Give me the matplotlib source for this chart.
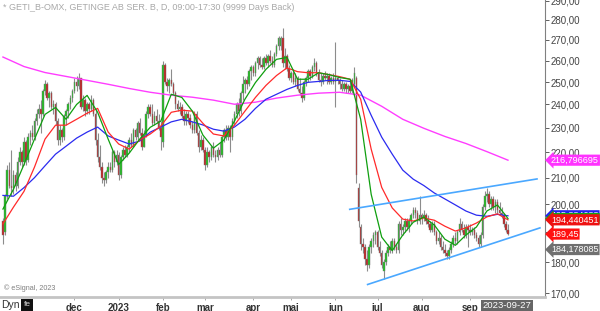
import numpy as np
import pandas as pd
import matplotlib
matplotlib.use('Agg')
import matplotlib.pyplot as plt
import matplotlib.transforms as mtransforms
from matplotlib.ticker import NullLocator

plt.rcParams['font.family'] = ['Liberation Sans', 'DejaVu Sans']

# ---------------- data ----------------
holidays = ['2022-12-26', '2023-01-06', '2023-04-07', '2023-04-10', '2023-05-01',
            '2023-05-18', '2023-06-06', '2023-06-23']
dates = pd.bdate_range('2022-10-14', '2023-09-27')
dates = dates[~dates.isin(pd.to_datetime(holidays))]

opens = [194, 190, 203, 213, 207, 206, 211, 207, 216, 220,
         216, 224, 217, 226, 228, 226, 233, 236, 238, 236,
         246, 249, 243, 245, 239, 240, 233, 225, 229, 226,
         235, 237, 240, 243, 246, 250, 248, 252, 239, 242,
         237, 240, 238, 242, 236, 225, 218, 214, 210, 209,
         212, 214, 213, 220, 216, 219, 211, 218, 221, 219,
         222, 225, 223, 229, 226, 232, 228, 222, 227, 236,
         239, 236, 232, 235, 233, 230, 224, 258, 250, 248,
         251, 249, 245, 240, 238, 239, 235, 233, 236, 234,
         231, 229, 236, 228, 222, 225, 221, 215, 220, 218,
         222, 219, 218, 221, 219, 226, 229, 226, 230, 226,
         233, 236, 240, 237, 245, 249, 251, 249, 255, 257,
         254, 259, 261, 258, 257, 261, 259, 262, 260, 258,
         263, 267, 267, 271, 259, 262, 256, 252, 254, 250,
         252, 247, 245, 243, 250, 252, 255, 253, 257, 259,
         254, 251, 250, 253, 252, 253, 250, 252, 250, 252,
         251, 249, 247, 249, 247, 248, 246, 249, 252, 206,
         192, 186, 185, 181, 179, 185, 187, 189, 190, 185,
         183, 177, 180, 183, 185, 184, 187, 185, 184, 193,
         191, 192, 194, 192, 194, 196, 198, 197, 194, 196,
         195, 196, 194, 193, 191, 193, 190, 187, 188, 185,
         184, 183, 182, 184, 186, 188, 187, 190, 193, 191,
         189, 192, 191, 190, 191, 189, 188, 186, 189, 199,
         203, 204, 200, 202, 199, 201, 198, 197, 196, 193,
         191]
highs = [195, 204, 215, 216, 221, 213, 212, 218, 222, 221,
         226, 225, 228, 229, 231, 234, 238, 240, 242, 247,
         251, 250, 246, 246, 242, 241, 234, 231, 230, 236,
         238, 241, 244, 247, 252, 253, 254, 252, 244, 243,
         241, 241, 244, 243, 238, 228, 223, 216, 212, 213,
         216, 216, 221, 221, 221, 220, 219, 222, 223, 223,
         226, 228, 230, 230, 233, 234, 230, 229, 237, 240,
         240, 240, 237, 238, 236, 233, 260, 259, 252, 252,
         256, 250, 246, 242, 241, 240, 238, 237, 237, 236,
         233, 237, 237, 229, 227, 226, 222, 222, 221, 223,
         224, 221, 222, 224, 227, 230, 231, 231, 231, 234,
         237, 241, 243, 246, 253, 252, 253, 256, 258, 258,
         260, 262, 262, 261, 262, 263, 263, 265, 262, 264,
         268, 272, 272, 276, 266, 263, 258, 255, 256, 254,
         253, 252, 248, 251, 253, 256, 256, 258, 261, 260,
         256, 254, 254, 255, 254, 254, 253, 254, 269, 253,
         252, 251, 250, 250, 249, 250, 252, 257, 253, 208,
         193, 188, 186, 184, 186, 188, 190, 191, 191, 187,
         184, 181, 184, 186, 187, 188, 188, 186, 194, 195,
         193, 195, 195, 195, 197, 199, 199, 198, 203, 197,
         198, 197, 196, 194, 194, 194, 191, 190, 189, 187,
         186, 184, 185, 187, 189, 190, 191, 195, 194, 193,
         193, 193, 193, 192, 192, 190, 189, 190, 200, 205,
         206, 205, 203, 203, 202, 202, 201, 199, 197, 194,
         193]
lows = [186, 189, 202, 206, 203, 204, 205, 206, 215, 214,
        215, 215, 216, 223, 225, 225, 231, 234, 228, 235,
        244, 242, 239, 238, 236, 231, 223, 223, 224, 225,
        231, 234, 238, 241, 245, 246, 247, 238, 237, 235,
        236, 236, 237, 235, 223, 216, 213, 208, 207, 208,
        210, 212, 212, 214, 215, 209, 210, 217, 218, 218,
        220, 222, 222, 225, 225, 227, 221, 222, 226, 234,
        235, 231, 231, 232, 229, 221, 222, 249, 246, 245,
        248, 244, 238, 237, 236, 234, 231, 231, 232, 230,
        228, 228, 227, 220, 221, 220, 213, 214, 216, 217,
        218, 216, 217, 218, 218, 224, 225, 225, 220, 225,
        231, 234, 235, 236, 242, 245, 247, 248, 251, 253,
        253, 256, 257, 256, 256, 258, 257, 259, 257, 257,
        262, 265, 265, 257, 256, 255, 251, 250, 249, 248,
        246, 244, 241, 242, 248, 250, 251, 252, 255, 253,
        250, 248, 249, 251, 249, 249, 249, 249, 239, 249,
        247, 246, 246, 245, 245, 245, 245, 248, 208, 192,
        184, 183, 179, 177, 178, 183, 185, 186, 184, 182,
        178, 174.5, 179, 182, 183, 183, 184, 183, 183, 189,
        189, 190, 191, 190, 193, 195, 195, 193, 193, 193,
        194, 193, 192, 190, 190, 189, 186, 186, 184, 183,
        182, 181, 181, 183, 185, 186, 186, 189, 190, 188,
        188, 185, 189, 189, 188, 187, 185, 185, 188, 198,
        201, 199, 198, 198, 197, 197, 196, 195, 192, 190,
        189]
closes = [189, 203, 213, 207, 206, 211, 207, 216, 220, 216,
          224, 217, 226, 228, 226, 233, 236, 238, 236, 246,
          249, 243, 245, 239, 240, 233, 225, 229, 226, 235,
          237, 240, 243, 246, 250, 248, 252, 239, 242, 237,
          240, 238, 242, 236, 225, 218, 214, 210, 209, 212,
          214, 213, 220, 216, 219, 211, 218, 221, 219, 222,
          225, 223, 229, 226, 232, 228, 222, 227, 236, 239,
          236, 232, 235, 233, 230, 226, 258, 250, 248, 251,
          249, 245, 240, 238, 239, 235, 233, 236, 234, 231,
          229, 236, 228, 222, 225, 221, 215, 220, 218, 222,
          219, 218, 221, 219, 226, 229, 226, 230, 226, 233,
          236, 240, 237, 245, 249, 251, 249, 255, 257, 254,
          259, 261, 258, 257, 261, 259, 262, 260, 258, 263,
          267, 271, 271, 259, 262, 256, 252, 254, 250, 252,
          247, 245, 243, 250, 252, 255, 253, 257, 259, 254,
          251, 250, 253, 252, 253, 250, 252, 250, 252, 251,
          249, 247, 249, 247, 248, 246, 251, 254, 211, 194,
          186, 185, 181, 179, 185, 187, 189, 190, 185, 183,
          179, 180, 183, 185, 184, 187, 185, 184, 193, 191,
          192, 194, 192, 194, 196, 198, 197, 194, 196, 195,
          196, 194, 193, 191, 193, 190, 187, 188, 185, 184,
          183, 182, 184, 186, 188, 187, 190, 193, 191, 189,
          192, 191, 190, 191, 189, 188, 186, 189, 199, 203,
          204, 200, 202, 199, 201, 198, 197, 196, 193, 191,
          189.45]

# moving averages, one value every 5 trading days (magenta every 10)
ma_green = [198.3, 205.6, 215.1, 225.3, 235.7, 238.7, 233.6, 240.0, 244.0, 236.6,
            225.3, 215.1, 219.6, 225.3, 230.2, 232.8, 244.5, 243.1, 237.1, 227.0,
            221.6, 224.9, 232.8, 242.3, 249.8, 255.9, 260.6, 261.5, 251.3, 251.3,
            254.3, 253.4, 252.1, 251.3, 233.6, 203.7, 188.4, 183.8, 189.1, 193.6,
            195.4, 192.6, 187.7, 185.6, 189.1, 191.9, 197.6, 199.8, 194.9]
ma_red = [193.0, 199.0, 204.8, 214.1, 225.3, 231.1, 231.1, 233.6, 236.2, 238.3,
          228.2, 223.3, 221.2, 224.9, 227.4, 230.7, 236.6, 237.5, 237.1, 231.9,
          227.4, 226.6, 231.1, 237.1, 243.1, 248.5, 253.0, 256.6, 254.8, 254.3,
          254.3, 253.4, 252.5, 251.3, 242.3, 221.2, 206.3, 198.7, 194.7, 194.0,
          195.1, 194.3, 192.2, 190.5, 191.6, 193.3, 195.5, 196.6, 194.44]
ma_blue = [203.3, 203.0, 206.2, 210.0, 214.6, 219.2, 222.4, 225.7, 228.2, 230.3,
           226.6, 224.9, 223.3, 224.5, 228.2, 230.3, 232.5, 233.6, 232.5, 231.2,
           229.4, 228.6, 230.3, 233.6, 238.3, 242.3, 244.5, 246.7, 248.5, 249.9,
           250.3, 250.8, 250.8, 250.3, 245.5, 235.3, 226.1, 219.2, 212.9, 209.4,
           207.0, 204.2, 202.0, 199.8, 197.6, 196.1, 195.7, 196.4, 195.88]
ma_magenta = [261.7, 257.2, 254.4, 252.6, 250.8, 249.0, 247.1, 245.4, 244.1, 243.2,
              241.9, 240.1, 241.0, 242.8, 244.1, 245.0, 245.4, 244.1, 239.2, 233.6,
              229.8, 226.4, 223.5, 220.2, 216.8]

trend_upper_day = [164.8, 253.8]
trend_upper_val = [198.2, 209.5]
trend_lower_day = [173.3, 255.2]
trend_lower_val = [172.8, 191.6]

ytick_values = [170, 180, 190, 200, 210, 220, 230, 240, 250, 260, 270, 280, 290]
month_names = ['dec', '2023', 'feb', 'mar', 'apr', 'maj', 'jun', 'jul', 'aug', 'sep']

value_labels = ['216,796695', '195,884088', '194,896120', '194,440451', '189,45', '184,178085']
value_levels = [216.796695, 195.884088, 194.896120, 194.440451, 189.45, 184.178085]
value_colors = ['#ff33ff', '#2222ee', '#11aa11', '#ee1111', '#ff1111', '#707070']

# ---------------- figure ----------------
W, H = 600, 311
fig = plt.figure(figsize=(W / 100, H / 100), dpi=100)
ax = fig.add_axes([0, 1 - 297 / H, 545 / W, 297 / H])
ax.set_yscale('log')
ax.set_ylim(168.9, 290.4)
ax.set_xlim(-1.4, 257.6)

n = len(closes)
x = np.arange(n)
o = np.array(opens, float)
c = np.array(closes, float)
hi = np.array(highs, float)
lo = np.array(lows, float)

ax.vlines(x, lo, hi, color='#8c8c8c', lw=0.8, zorder=2)
up = c >= o
bottoms = np.minimum(o, c)
heights = np.maximum(np.abs(c - o), 0.4)
ax.bar(x, heights, bottom=bottoms, width=0.72,
       color=np.where(up, '#1fbf1f', '#c42020'),
       edgecolor='#7a7a7a', linewidth=0.3, zorder=3)

x5 = np.arange(0, 5 * len(ma_green), 5)
x10 = np.arange(0, 10 * len(ma_magenta), 10)
ax.plot(x10, ma_magenta, color='#ff3dff', lw=1.0, zorder=4)
ax.plot(x5, ma_blue, color='#2b2bf0', lw=0.9, zorder=4)
ax.plot(x5, ma_red, color='#ff2a2a', lw=0.9, zorder=4)
ax.plot(x5, ma_green, color='#0f9f0f', lw=0.9, zorder=4)

ax.plot(trend_upper_day, trend_upper_val, color='#4aa8ff', lw=1.2, zorder=5)
ax.plot(trend_lower_day, trend_lower_val, color='#4aa8ff', lw=1.2, zorder=5)

# axes styling
for s in ['top', 'left']:
    ax.spines[s].set_visible(False)
ax.spines['right'].set_color('#808080')
ax.spines['right'].set_linewidth(0.8)
ax.spines['bottom'].set_color('#c4c4c4')
ax.spines['bottom'].set_linewidth(2.0)

ax.yaxis.tick_right()
ax.set_yticks(ytick_values)
ax.set_yticklabels([f'{v},00' for v in ytick_values])
ax.yaxis.set_minor_locator(NullLocator())
ax.tick_params(axis='y', labelsize=7, colors='#444444', length=3, width=0.6, pad=1)

month_starts = []
for yr, mo in [(2022, 12), (2023, 1), (2023, 2), (2023, 3), (2023, 4), (2023, 5),
               (2023, 6), (2023, 7), (2023, 8), (2023, 9)]:
    idx = np.where((dates.year == yr) & (dates.month == mo))[0]
    month_starts.append(int(idx[0]) if len(idx) else 0)
ax.set_xticks(month_starts)
ax.set_xticklabels(month_names, fontweight='bold')
ax.xaxis.set_minor_locator(NullLocator())
ax.tick_params(axis='x', labelsize=7, colors='#333333', length=2, width=0.6, pad=2,
               color='#999999')

# right-side value flags
trans = mtransforms.blended_transform_factory(ax.transAxes, ax.transData)
for txt, lvl, col in zip(value_labels, value_levels, value_colors):
    ax.text(1.0 + 6 / 545, lvl, txt, transform=trans, ha='left', va='center',
            fontsize=6.5, color='white', clip_on=False, zorder=10,
            bbox=dict(boxstyle='larrow,pad=0.12', fc=col, ec='none'))

# header / footer texts
fig.text(3 / W, 1 - 8 / H, '* GETI_B-OMX, GETINGE AB SER. B, D, 09:00-17:30 (9999 Days Back)',
         fontsize=6.5, color='#a8a8a8', ha='left', va='center')
fig.text(4 / W, 1 - 288 / H, '\u00a9 eSignal, 2023', fontsize=5.2, color='#808080',
         ha='left', va='center')
fig.text(1 / W, 1 - 305 / H, 'Dyn', fontsize=7.5, color='#333333', ha='left', va='center')
fig.text(27 / W, 1 - 305 / H, 'fe', fontsize=6, color='#dddddd', ha='center', va='center',
         bbox=dict(boxstyle='square,pad=0.25', fc='#111111', ec='none'))
fig.text(507 / W, 1 - 306 / H, '2023-09-27', fontsize=6.8, color='white', ha='center',
         va='center', bbox=dict(boxstyle='square,pad=0.12', fc='#666666', ec='none'))

fig.savefig('out.png', dpi=100)
